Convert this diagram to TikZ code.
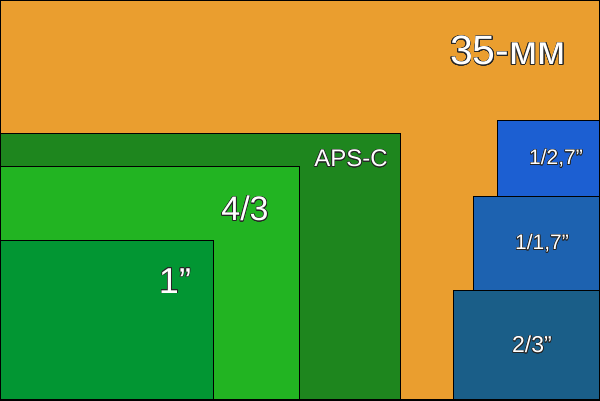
\documentclass[tikz,border=0pt]{standalone}
\usepackage{fontspec}
\setmainfont{Liberation Sans}
\usepackage[copies]{contour}
\contournumber{16}
\contourlength{0.6pt}
\definecolor{orangebg}{HTML}{EA9E2F}
\definecolor{apsc}{HTML}{1E861E}
\definecolor{fourthirds}{HTML}{22B422}
\definecolor{oneinch}{HTML}{029633}
\definecolor{bluea}{HTML}{1C5FD2}
\definecolor{blueb}{HTML}{1D62B0}
\definecolor{bluec}{HTML}{1A5E88}
\tikzset{
  sensor/.style={draw=black, line width=1pt},
  lbl/.style={text=white, inner sep=0pt, anchor=center}
}
\newcommand{\ol}[1]{\contour{black!85}{#1}}
\begin{document}
\begin{tikzpicture}[x=1pt,y=1pt]
\useasboundingbox (0,0) rectangle (600,400);
\fill[orangebg] (0,0) rectangle (600,400);
\draw[sensor, fill=apsc] (0,0) rectangle (400,267);
\draw[sensor, fill=fourthirds] (0,0) rectangle (299,234);
\draw[sensor, fill=oneinch] (0,0) rectangle (213,160);
\draw[sensor, fill=bluea] (497,204) rectangle (600,280);
\draw[sensor, fill=blueb] (473,110) rectangle (600,204);
\draw[sensor, fill=bluec] (453,0) rectangle (600,110);
\draw[black, line width=1.5pt] (0,0) rectangle (600,400);
\node[lbl, font=\fontsize{41}{41}\selectfont] (ff) at (508,349) {\ol{35-мм}};
\node[lbl, font=\fontsize{24}{24}\selectfont] (aps) at (351,241) {\ol{APS-C}};
\node[lbl, font=\fontsize{34}{34}\selectfont] (ft) at (245,191) {\ol{4/3}};
\node[lbl, font=\fontsize{36}{36}\selectfont] (oi) at (175,119) {\ol{1”}};
\node[lbl, font=\fontsize{21}{21}\selectfont] (a) at (556,241) {\ol{1/2,7”}};
\node[lbl, font=\fontsize{21}{21}\selectfont] (b) at (542,156) {\ol{1/1,7”}};
\node[lbl, font=\fontsize{23}{23}\selectfont] (c) at (532,55) {\ol{2/3”}};
\end{tikzpicture}
\end{document}
